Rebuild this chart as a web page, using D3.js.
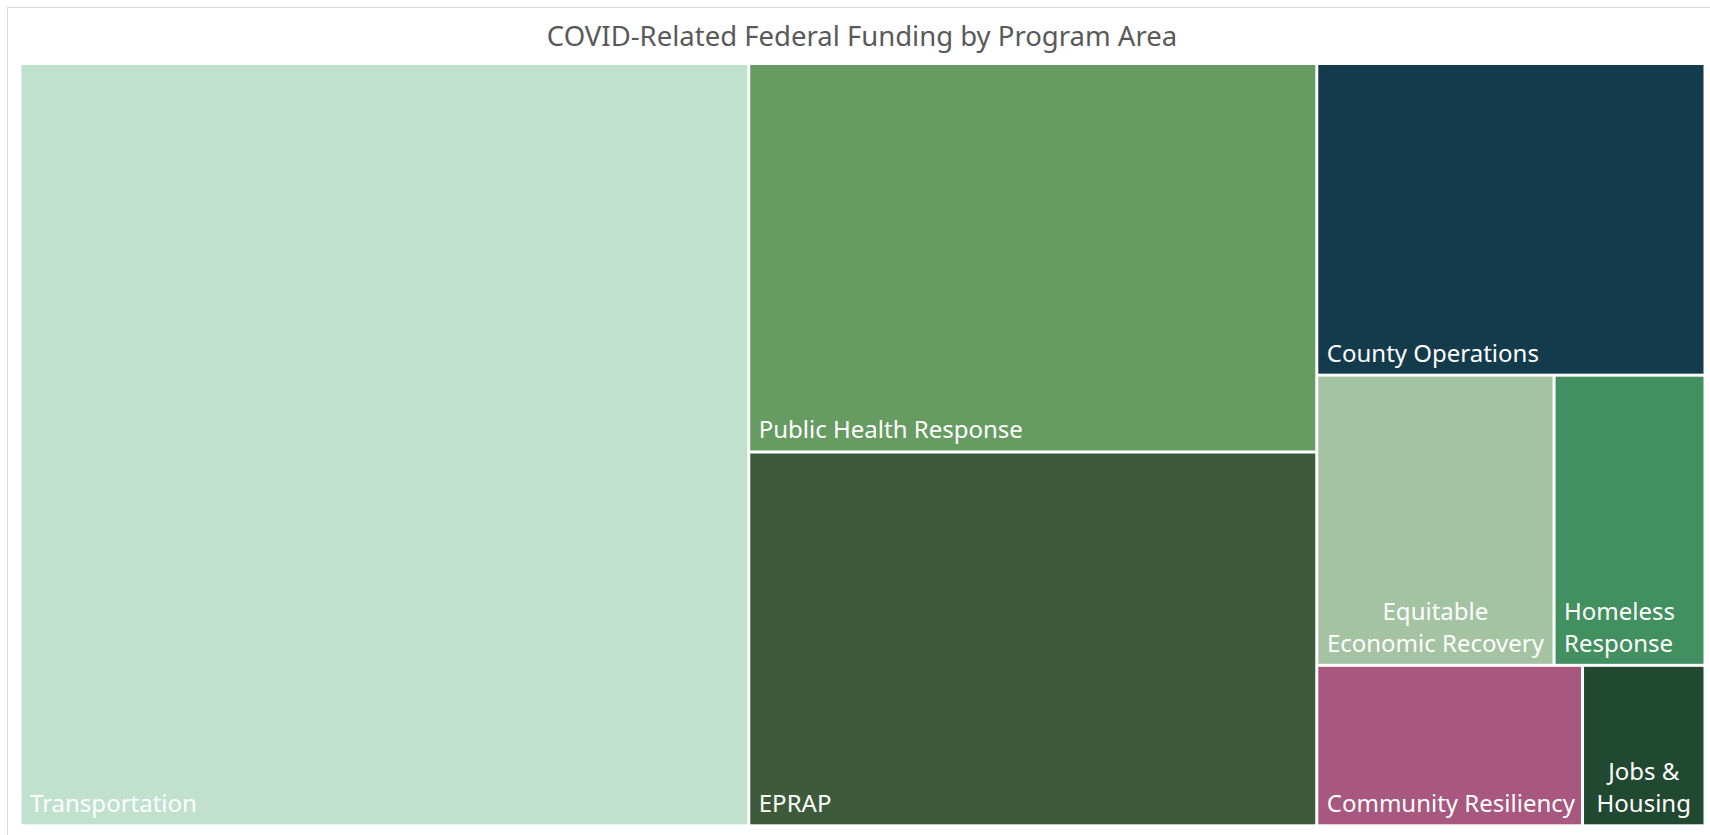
<!DOCTYPE html>
<html>
<head>
<meta charset="utf-8">
<script src="https://cdn.jsdelivr.net/npm/d3@7"></script>
<style>
  html, body { margin: 0; padding: 0; background: #ffffff; overflow: hidden; }
  svg { display: block; }
  text { font-family: "Noto Sans", "Open Sans", sans-serif; }
</style>
</head>
<body>
<svg id="chart" width="1710" height="835"></svg>
<script>
// ---- Data (estimated shares of COVID-related federal funding) ----
const categories = [
  "Transportation",
  "Public Health Response",
  "EPRAP",
  "County Operations",
  "Equitable Economic Recovery",
  "Homeless Response",
  "Community Resiliency",
  "Jobs & Housing"
];
const fundingValues = [432.5, 171.8, 165.3, 94.2, 53.6, 34.1, 33.2, 15.3];
const labelLines = [
  ["Transportation"],
  ["Public Health Response"],
  ["EPRAP"],
  ["County Operations"],
  ["Equitable", "Economic Recovery"],
  ["Homeless", "Response"],
  ["Community Resiliency"],
  ["Jobs &", "Housing"]
];
const chartTitle = "COVID-Related Federal Funding by Program Area";

// ---- Styles ----
const colors = {
  "Transportation": "#bfe1cd",
  "Public Health Response": "#669b62",
  "EPRAP": "#3d5b3b",
  "County Operations": "#143b4c",
  "Equitable Economic Recovery": "#a3c3a2",
  "Homeless Response": "#428f5f",
  "Community Resiliency": "#a8577e",
  "Jobs & Housing": "#214831"
};
const centered = new Set(["Equitable Economic Recovery", "Jobs & Housing"]);

const svg = d3.select("#chart");

// outer frame
svg.append("rect")
  .attr("x", 7.5).attr("y", 7.5)
  .attr("width", 1720).attr("height", 840)
  .attr("fill", "#ffffff")
  .attr("stroke", "#d9d9d9").attr("stroke-width", 1);

// title
svg.append("text")
  .attr("x", 862).attr("y", 46)
  .attr("text-anchor", "middle")
  .attr("font-size", 27.5)
  .attr("fill", "#595959")
  .text(chartTitle);

// treemap
const area = { x0: 21.5, y0: 65, x1: 1703.5, y1: 824.3 };
const data = categories.map((c, i) => ({ name: c, value: fundingValues[i], lines: labelLines[i] }));
const root = d3.hierarchy({ children: data }).sum(d => d.value || 0);

d3.treemap()
  .tile(d3.treemapSquarify.ratio(1))
  .size([area.x1 - area.x0, area.y1 - area.y0])
  .paddingInner(3)
  (root);

const g = svg.append("g").attr("transform", `translate(${area.x0},${area.y0})`);

const cell = g.selectAll("g.cell")
  .data(root.leaves())
  .join("g")
  .attr("class", "cell")
  .attr("transform", d => `translate(${d.x0},${d.y0})`);

cell.append("rect")
  .attr("width", d => d.x1 - d.x0)
  .attr("height", d => d.y1 - d.y0)
  .attr("fill", d => colors[d.data.name]);

const lineH = 32;
cell.each(function(d) {
  const w = d.x1 - d.x0, h = d.y1 - d.y0;
  const lines = d.data.lines;
  const isC = centered.has(d.data.name);
  const t = d3.select(this).append("text")
    .attr("font-size", 24)
    .attr("fill", "#ffffff")
    .attr("text-anchor", isC ? "middle" : "start");
  lines.forEach((ln, i) => {
    t.append("tspan")
      .attr("x", isC ? w / 2 : 8.5)
      .attr("y", h - 12 - (lines.length - 1 - i) * lineH)
      .text(ln);
  });
});
</script>
</body>
</html>
